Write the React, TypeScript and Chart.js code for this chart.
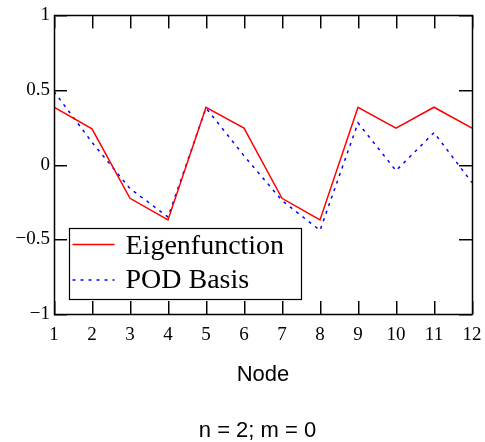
import React, { useEffect, useRef } from "react";
import { Chart, registerables } from "chart.js";

Chart.register(...registerables);

const nodes = [1, 2, 3, 4, 5, 6, 7, 8, 9, 10, 11, 12];
const eigenfunction = [0.385, 0.24, -0.225, -0.37, 0.385, 0.245, -0.225, -0.37, 0.385, 0.245, 0.385, 0.245];
const podBasis = [0.49, 0.15, -0.16, -0.35, 0.38, 0.06, -0.24, -0.44, 0.28, -0.04, 0.215, -0.12];
const yTicks = [-1, -0.5, 0, 0.5, 1];
const seriesNames = ["Eigenfunction", "POD Basis"];
const xTitle = "Node";
const subTitle = "n = 2; m = 0";

const SERIF = "'Liberation Serif', 'Times New Roman', serif";
const SANS = "'Liberation Sans', Arial, sans-serif";

const framePlugin = {
  id: "frameTicks",
  afterDraw(chart: any) {
    const { ctx, chartArea, scales } = chart;
    const { left, right, top, bottom } = chartArea;
    ctx.save();
    ctx.setLineDash([]);
    const tl = 13;
    nodes.forEach((n) => {
      const x = Math.round(scales.x.getPixelForValue(n));
      ctx.fillStyle = "#000";
      ctx.fillRect(x, bottom - tl, 1, tl);
      ctx.fillRect(x, top, 1, tl);
      ctx.fillStyle = "#888";
      ctx.fillRect(x + 1, bottom - tl, 1, tl);
      ctx.fillRect(x + 1, top, 1, tl);
    });
    yTicks.forEach((v) => {
      const y = Math.round(scales.y.getPixelForValue(v));
      ctx.fillStyle = "#000";
      ctx.fillRect(left, y, tl, 1);
      ctx.fillRect(right - tl, y, tl, 1);
      ctx.fillStyle = "#888";
      ctx.fillRect(left, y + 1, tl, 1);
      ctx.fillRect(right - tl, y + 1, tl, 1);
    });
    ctx.strokeStyle = "#000";
    ctx.lineWidth = 1.5;
    ctx.strokeRect(Math.round(left) + 0.5, Math.round(top) + 0.5, Math.round(right - left), Math.round(bottom - top));

    // legend box
    const lx = 69, ly = 228, lw = 232, lh = 71;
    ctx.fillStyle = "#fff";
    ctx.fillRect(lx, ly, lw, lh);
    ctx.lineWidth = 1.2;
    ctx.strokeStyle = "#000";
    ctx.strokeRect(lx + 0.5, ly + 0.5, lw, lh);
    const ds = chart.data.datasets;
    const rows = [244.5, 280];
    const baselines = [254.3, 287.7];
    ds.forEach((d: any, i: number) => {
      ctx.beginPath();
      ctx.strokeStyle = d.borderColor;
      ctx.lineWidth = d.borderWidth;
      ctx.setLineDash(d.borderDash || []);
      ctx.moveTo(72.5, rows[i]);
      ctx.lineTo(114.5, rows[i]);
      ctx.stroke();
      ctx.setLineDash([]);
      ctx.fillStyle = "#000";
      ctx.font = `28px ${SERIF}`;
      ctx.textBaseline = "alphabetic";
      ctx.textAlign = "left";
      ctx.fillText(d.label, 125.5, baselines[i]);
    });

    // subtitle under the axis title
    ctx.fillStyle = "#000";
    ctx.font = `22px ${SANS}`;
    ctx.textAlign = "center";
    ctx.textBaseline = "alphabetic";
    ctx.fillText(subTitle, 257.5, 437);
    ctx.restore();
  },
};

export default function App() {
  const ref = useRef<HTMLCanvasElement | null>(null);
  useEffect(() => {
    if (!ref.current) return;
    const chart = new Chart(ref.current, {
      type: "line",
      data: {
        datasets: [
          {
            label: seriesNames[0],
            data: nodes.map((n, i) => ({ x: n, y: eigenfunction[i] })),
            borderColor: "#ff0000",
            borderWidth: 1.5,
            pointRadius: 0,
            tension: 0,
            fill: false,
          },
          {
            label: seriesNames[1],
            data: nodes.map((n, i) => ({ x: n, y: podBasis[i] })),
            borderColor: "#0000ff",
            borderWidth: 1.5,
            borderDash: [3, 5],
            pointRadius: 0,
            tension: 0,
            fill: false,
          },
        ],
      },
      options: {
        animation: false,
        responsive: false,
        layout: { padding: { top: 14, right: 13, left: 0, bottom: 0 } },
        plugins: {
          legend: { display: false },
          tooltip: { enabled: false },
          title: { display: false },
        },
        scales: {
          x: {
            type: "linear",
            min: 1,
            max: 12,
            grid: { display: false, drawTicks: false },
            border: { display: false },
            ticks: {
              stepSize: 1,
              color: "#000",
              font: { family: SERIF, size: 19 },
              padding: 10,
              maxRotation: 0,
            },
            title: {
              display: true,
              text: xTitle,
              color: "#000",
              font: { family: SANS, size: 22 },
              padding: { top: 0, bottom: 53.6 },
            },
            afterFit: (s: any) => {
              s.height = 128;
              s.paddingRight = 0;
              s.paddingLeft = 0;
            },
          },
          y: {
            type: "linear",
            min: -1,
            max: 1,
            grid: { display: false, drawTicks: false },
            border: { display: false },
            ticks: {
              stepSize: 0.5,
              color: "#000",
              font: { family: SERIF, size: 19 },
              padding: 4,
              callback: (v: any) => {
                const n = Number(v);
                return n < 0 ? "\u2212" + String(Math.abs(n)) : String(n);
              },
            },
            afterFit: (s: any) => {
              s.width = 54;
            },
          },
        },
      },
      plugins: [framePlugin],
    });
    return () => chart.destroy();
  }, []);
  return (
    <div style={{ position: "fixed", left: 0, top: 0, width: 485, height: 442, background: "#fff" }}>
      <canvas ref={ref} width={485} height={442} style={{ display: "block" }} />
    </div>
  );
}
